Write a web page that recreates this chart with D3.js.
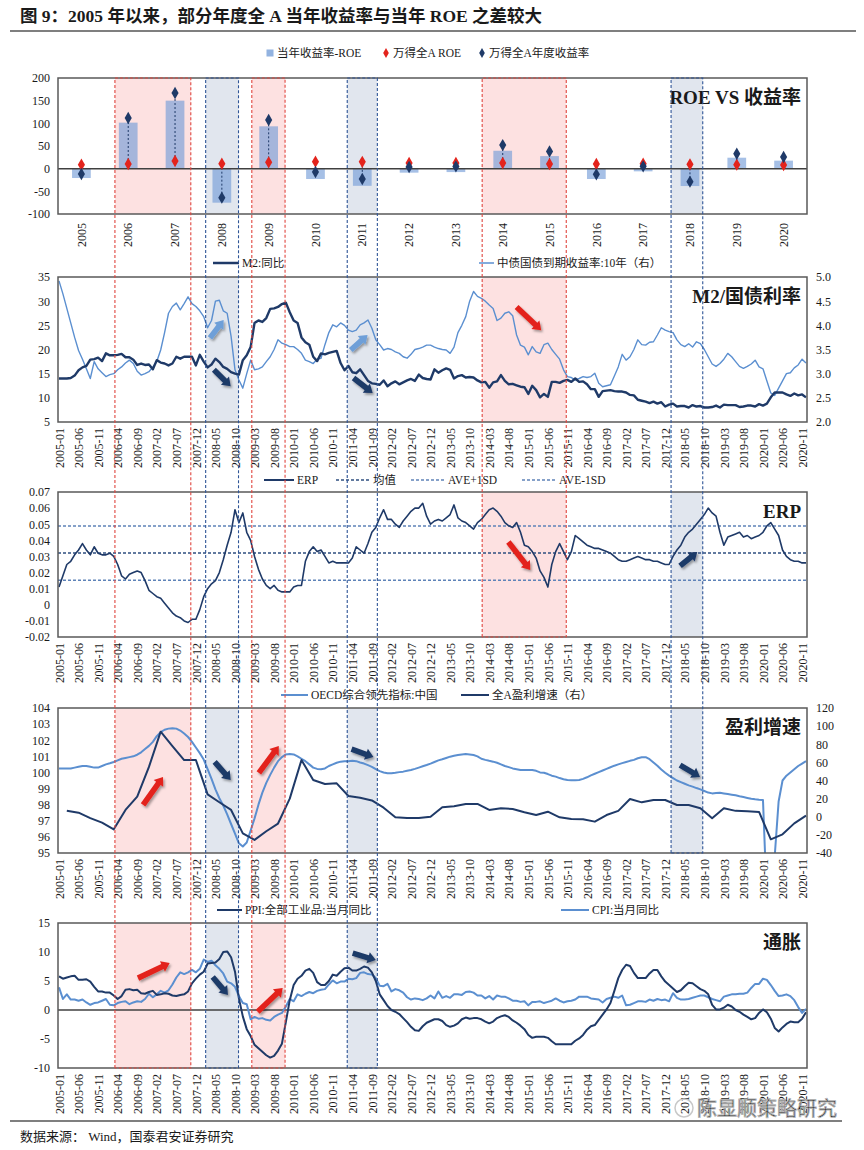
<!DOCTYPE html>
<html><head><meta charset="utf-8">
<script src="https://cdn.jsdelivr.net/npm/d3@7"></script>
<style>
body{margin:0;background:#fff}
text{font-family:"Liberation Serif","Noto Sans CJK SC",serif;fill:#1a1a1a}
</style></head>
<body>
<svg id="chart" width="864" height="1150"></svg>
<script>
// ---- data ----
const years = ["2005","2006","2007","2008","2009","2010","2011","2012","2013","2014","2015","2016","2017","2018","2019","2020"]
const roeGap = [-20.6,101.5,150,-75,93.4,-22.8,-37.8,-8.8,-7.5,39.5,27.7,-22.8,-5.9,-38.3,24.2,17.7]
const roe = [8.8,10.3,16.9,11,14,15.4,15,12.5,12.5,12.5,10.3,10.3,11,9.6,8.8,8]
const yearReturn = [-11.8,111.8,166.9,-64,107.4,-7.4,-22.8,3.7,5,52,38,-12.5,5.1,-28.7,33,25.7]

// monthly series, 2005-01 .. 2020-12
const m2 = [
14.0,14.0,14.0,14.1,14.6,15.7,16.3,16.6,17.9,18.0,18.3,17.6,
19.2,18.8,18.8,18.9,19.1,18.4,18.4,17.9,16.8,17.1,16.8,16.9,
15.9,17.8,17.3,17.1,16.7,17.1,18.5,18.1,18.5,18.5,18.5,16.7,
18.9,17.5,16.3,16.9,18.1,17.4,16.4,16.0,15.3,15.0,14.8,17.8,
18.8,20.5,25.5,26.0,25.7,26.5,28.4,28.5,28.8,29.4,29.7,27.7,
26.0,25.5,22.5,21.5,21.0,18.5,17.6,19.2,19.0,19.3,19.5,19.7,
17.2,15.7,16.6,15.3,15.1,15.9,14.7,13.5,13.0,12.9,12.7,13.6,
12.4,13.0,13.4,12.8,13.2,13.6,13.9,13.5,14.8,14.1,13.9,13.8,
15.9,15.2,15.7,16.1,15.8,14.0,14.5,14.7,14.2,14.3,14.2,13.6,
13.2,13.3,12.1,13.2,13.4,14.7,13.5,12.8,12.9,12.6,12.3,12.2,
10.8,12.5,11.6,10.1,10.8,10.2,13.3,13.3,13.1,13.5,13.7,13.3,
14.0,13.3,13.4,12.8,11.8,11.8,10.2,11.4,11.5,11.6,11.4,11.3,
11.3,11.1,10.6,10.5,9.6,9.4,9.2,8.9,9.2,8.8,9.1,8.2,
8.6,8.8,8.2,8.3,8.3,8.0,8.5,8.2,8.3,8.0,8.0,8.1,
8.4,8.0,8.6,8.5,8.5,8.5,8.1,8.2,8.4,8.4,8.2,8.7,
8.4,8.8,10.1,11.1,11.1,11.1,10.7,10.4,10.9,10.5,10.7,10.1]
const cgb10y = [
4.92,4.65,4.35,4.05,3.75,3.48,3.30,3.10,2.90,3.25,3.10,3.02,
2.94,2.98,3.00,3.08,3.14,3.22,3.28,3.21,3.05,2.97,3.00,3.04,
3.14,3.25,3.49,3.85,4.25,4.39,4.46,4.32,4.45,4.59,4.45,4.39,
4.30,4.18,3.95,4.10,4.50,4.52,4.30,4.25,3.77,3.08,2.87,2.70,
3.00,3.28,3.08,3.10,3.14,3.25,3.35,3.50,3.70,3.63,3.60,3.56,
3.56,3.50,3.42,3.28,3.25,3.21,3.30,3.32,3.60,3.85,4.01,3.97,
4.05,4.00,3.90,3.87,3.90,4.01,4.05,4.11,3.94,3.70,3.60,3.49,
3.52,3.50,3.45,3.42,3.35,3.32,3.40,3.50,3.52,3.55,3.59,3.59,
3.55,3.52,3.50,3.49,3.42,3.55,3.85,4.00,4.18,4.50,4.70,4.60,
4.56,4.50,4.42,4.35,4.10,4.15,4.25,4.28,4.20,3.80,3.59,3.55,
3.39,3.56,3.45,3.42,3.60,3.63,3.50,3.40,3.30,3.08,2.94,2.92,
2.87,2.90,2.94,2.92,2.94,3.01,2.80,2.73,2.75,2.77,2.95,3.14,
3.40,3.28,3.35,3.50,3.70,3.60,3.59,3.65,3.66,3.80,3.95,3.90,
3.87,3.85,3.70,3.60,3.56,3.62,3.55,3.66,3.62,3.50,3.35,3.20,
3.15,3.21,3.30,3.42,3.35,3.25,3.15,3.11,3.15,3.20,3.28,3.14,
3.10,2.85,2.60,2.55,2.70,2.85,3.00,3.02,3.12,3.18,3.30,3.22]
const erp = [
0.011,0.018,0.025,0.027,0.031,0.034,0.038,0.034,0.031,0.036,0.032,0.031,
0.031,0.032,0.030,0.025,0.018,0.016,0.019,0.020,0.021,0.020,0.015,0.009,
0.007,0.005,0.004,0.001,-0.002,-0.005,-0.007,-0.008,-0.010,-0.011,-0.009,-0.009,
-0.003,0.005,0.010,0.013,0.015,0.020,0.028,0.037,0.045,0.059,0.051,0.057,
0.045,0.040,0.030,0.022,0.016,0.012,0.010,0.012,0.009,0.008,0.008,0.008,
0.011,0.012,0.012,0.027,0.033,0.036,0.033,0.034,0.030,0.026,0.027,0.026,
0.026,0.026,0.026,0.029,0.036,0.034,0.032,0.038,0.045,0.048,0.054,0.059,
0.053,0.053,0.050,0.048,0.052,0.055,0.058,0.060,0.060,0.063,0.055,0.050,
0.052,0.053,0.052,0.054,0.056,0.062,0.054,0.052,0.051,0.049,0.047,0.051,
0.053,0.056,0.059,0.060,0.058,0.055,0.051,0.049,0.048,0.051,0.045,0.037,
0.036,0.033,0.029,0.021,0.017,0.011,0.025,0.033,0.038,0.033,0.028,0.033,
0.043,0.041,0.039,0.037,0.036,0.035,0.035,0.034,0.033,0.032,0.030,0.028,
0.027,0.027,0.028,0.029,0.030,0.029,0.028,0.028,0.027,0.027,0.026,0.025,
0.025,0.030,0.034,0.037,0.042,0.045,0.047,0.050,0.053,0.056,0.060,0.057,
0.055,0.045,0.037,0.042,0.043,0.044,0.045,0.042,0.043,0.041,0.042,0.043,
0.045,0.049,0.051,0.047,0.043,0.034,0.030,0.028,0.027,0.027,0.026,0.026]
const erpRefs = [0.0321, 0.0489, 0.0152]   // 均值, AVE+1SD, AVE-1SD
const oecd = [
100.25,100.25,100.25,100.25,100.3,100.35,100.4,100.4,100.35,100.3,100.3,100.4,
100.5,100.57,100.65,100.75,100.85,100.9,100.95,101.0,101.1,101.25,101.45,101.65,
101.9,102.25,102.5,102.65,102.72,102.75,102.72,102.6,102.42,102.2,101.9,101.55,
101.2,100.8,100.2,99.6,98.95,98.4,97.95,97.4,96.8,96.2,95.6,95.4,
95.65,96.4,97.15,98.0,98.75,99.35,99.85,100.3,100.7,100.95,101.12,101.15,
101.12,101.0,100.85,100.7,100.5,100.3,100.22,100.2,100.25,100.4,100.5,100.6,
100.67,100.7,100.7,100.72,100.7,100.62,100.55,100.45,100.35,100.2,100.08,100.0,
99.95,99.95,99.98,100.02,100.05,100.1,100.15,100.22,100.3,100.38,100.46,100.55,
100.65,100.75,100.82,100.9,100.98,101.03,101.08,101.12,101.14,101.12,101.08,101.0,
100.85,100.78,100.72,100.67,100.6,100.5,100.4,100.33,100.25,100.2,100.15,100.15,
100.15,100.15,100.1,100.0,99.98,99.9,99.8,99.74,99.65,99.58,99.53,99.52,
99.52,99.53,99.6,99.7,99.82,99.92,100.02,100.12,100.22,100.32,100.42,100.5,
100.58,100.65,100.72,100.78,100.88,100.94,100.95,100.82,100.62,100.42,100.18,99.98,
99.8,99.65,99.5,99.4,99.3,99.2,99.12,99.03,98.95,98.85,98.75,98.7,
98.72,98.74,98.7,98.66,98.62,98.58,98.52,98.47,98.42,98.37,98.33,98.3,
98.29,92.0,92.5,94.8,98.2,99.5,99.8,100.0,100.2,100.4,100.55,100.7]
// quarterly, 2005Q1 .. 2020Q4
const profitGrowth = [
6.7,4.5,-1.5,-6.5, -13.9,7.5,22.2,55, 93.9,78,62.6,62.6, 24.7,16,7.5,-18.3,
-25.6,-16,-7.5,20, 62.6,40.6,36.1,36.9, 22.9,21,18,10, -0.6,-1.5,-1.5,0.1,
10.4,11.5,14.1,14.1, 7.5,9.3,8.6,5.0, 1.9,5.6,-0.6,-2.5, -2.8,-5.4,1.9,6.5,
19.6,15.9,18.5,18.5, 13,13,9.3,-1.7, 9.3,6.5,6.2,5.3, -24.9,-19.4,-7.3,1.2]
const ppi = [
5.8,5.4,5.6,5.8,5.9,5.2,5.2,5.3,4.9,4.0,3.2,3.2,
3.0,3.0,2.5,1.9,2.4,3.5,3.6,3.4,3.5,2.9,2.8,3.1,
3.3,2.6,2.7,2.9,2.8,2.5,2.4,2.6,2.7,3.2,4.6,5.4,
6.1,6.6,8.0,8.1,8.2,8.8,10.0,10.1,9.1,6.6,2.0,-1.1,
-3.3,-4.5,-6.0,-6.6,-7.2,-7.8,-8.2,-7.9,-7.0,-5.8,-2.1,1.7,
4.3,5.4,5.9,6.8,7.1,6.4,4.8,4.3,4.3,5.0,6.1,5.9,
6.6,7.2,7.3,6.8,6.8,7.1,7.5,7.3,6.5,5.0,2.7,1.7,
0.7,0.0,-0.3,-0.7,-1.4,-2.1,-2.9,-3.5,-3.6,-2.8,-2.2,-1.9,
-1.6,-1.6,-1.9,-2.6,-2.9,-2.7,-2.3,-1.6,-1.3,-1.5,-1.4,-1.4,
-1.6,-2.0,-2.3,-2.0,-1.4,-1.1,-0.9,-1.2,-1.8,-2.2,-2.7,-3.3,
-4.3,-4.8,-4.6,-4.6,-4.6,-4.8,-5.4,-5.9,-5.9,-5.9,-5.9,-5.9,
-5.3,-4.9,-4.3,-3.4,-2.8,-2.6,-1.7,-0.8,0.1,1.2,3.3,5.5,
6.9,7.8,7.6,6.4,5.5,5.5,5.5,6.3,6.9,6.9,5.8,4.9,
4.3,3.7,3.1,3.4,4.1,4.7,4.6,4.1,3.6,3.3,2.7,0.9,
0.1,0.1,0.4,0.9,0.6,0.0,-0.3,-0.8,-1.2,-1.6,-1.4,-0.5,
0.1,-0.4,-1.5,-3.1,-3.7,-3.0,-2.4,-2.0,-2.1,-2.1,-1.5,-0.4]
const cpi = [
3.9,1.9,2.7,1.8,1.8,1.6,1.8,1.3,0.9,1.2,1.3,1.6,
1.9,0.9,0.8,1.2,1.4,1.5,1.0,1.3,1.5,1.4,1.9,2.8,
2.2,2.7,3.3,3.0,3.4,4.4,5.6,6.5,6.2,6.5,6.9,6.5,
7.1,8.7,8.3,8.5,7.7,7.1,6.3,4.9,4.6,4.0,2.4,1.2,
1.0,-1.6,-1.2,-1.5,-1.4,-1.7,-1.8,-1.2,-0.8,-0.5,0.6,1.9,
1.5,2.7,2.4,2.8,3.1,2.9,3.3,3.5,3.6,4.4,5.1,4.6,
4.9,4.9,5.4,5.3,5.5,6.4,6.5,6.2,6.1,5.5,4.2,4.1,
4.5,3.2,3.6,3.4,3.0,2.2,1.8,2.0,1.9,1.7,2.0,2.5,
2.0,3.2,2.1,2.4,2.1,2.7,2.7,2.6,3.1,3.2,3.0,2.5,
2.5,2.0,2.4,1.8,2.5,2.3,2.3,2.0,1.6,1.6,1.4,1.5,
0.8,1.4,1.4,1.5,1.2,1.4,1.6,2.0,1.6,1.3,1.5,1.6,
1.8,2.3,2.3,2.3,2.0,1.9,1.8,1.3,1.9,2.1,2.3,2.1,
2.5,0.8,0.9,1.2,1.5,1.5,1.4,1.8,1.6,1.9,1.7,1.8,
1.5,2.9,2.1,1.8,1.8,1.9,2.1,2.3,2.5,2.5,2.2,1.9,
1.7,1.5,2.3,2.5,2.7,2.7,2.8,2.8,3.0,3.8,4.5,4.5,
5.4,5.2,4.3,3.3,2.4,2.5,2.7,2.4,1.7,0.5,-0.5,0.2]

// tick values
const ticksP1 = [-100,-50,0,50,100,150,200]
const ticksP2L = [5,10,15,20,25,30,35]
const ticksP2R = [2.0,2.5,3.0,3.5,4.0,4.5,5.0]
const ticksP3 = [-0.02,-0.01,0,0.01,0.02,0.03,0.04,0.05,0.06,0.07]
const ticksP4L = [95,96,97,98,99,100,101,102,103,104]
const ticksP4R = [-40,-20,0,20,40,60,80,100,120]
const ticksP5 = [-10,-5,0,5,10,15]

// highlighted periods (month index from 2005-01), panels shaded, last panel reached
const periods = [
  {from:14.3, to:33.7, kind:"red",  shade:[1,4,5], last:5},
  {from:37.5, to:45.9, kind:"blue", shade:[1,2,4,5], last:5},
  {from:49.3, to:57.8, kind:"red",  shade:[1,4,5], last:5},
  {from:73.7, to:81.4, kind:"blue", shade:[1,2,4,5], last:5},
  {from:108.2, to:129.7, kind:"red", shade:[1,2,3], last:3},
  {from:156.5, to:164.6, kind:"blue", shade:[1,3,4], last:4}
]
// trend arrows, in month index and left-axis value of their panel
const arrows = [
  {p:2, m:[38.6,42.1], v:[22.4,26.1], c:"light"},
  {p:2, m:[39.6,43.9], v:[15.8,12.4], c:"dark"},
  {p:2, m:[74.6,78.9], v:[19.9,23.0], c:"light"},
  {p:2, m:[75.3,80.2], v:[14.1,11.0], c:"dark"},
  {p:2, m:[117,123.3], v:[28.8,24.0], c:"red"},
  {p:3, m:[114.9,120.5], v:[0.039,0.0216], c:"red"},
  {p:3, m:[158.8,163.2], v:[0.0241,0.0328], c:"dark"},
  {p:4, m:[21.5,26.6], v:[97.98,99.72], c:"red"},
  {p:4, m:[51.1,56.2], v:[99.97,101.64], c:"red"},
  {p:4, m:[39.8,43.9], v:[100.65,99.53], c:"dark"},
  {p:4, m:[74.8,80.4], v:[101.45,100.96], c:"dark"},
  {p:4, m:[158.8,163.9], v:[100.46,99.72], c:"dark"},
  {p:5, m:[20.2,28.3], v:[5.5,8.1], c:"red"},
  {p:5, m:[50.8,57.2], v:[-0.3,3.8], c:"red"},
  {p:5, m:[39.3,43.2], v:[5.7,2.6], c:"dark"},
  {p:5, m:[75.1,81.0], v:[9.8,8.6], c:"dark"}
]

// ---- layout ----
const NAVY = "#1f3a68", LIGHT = "#5b8fd0", RED = "#e3231c", BAR = "#6f9ad6"
const PL = 58, PR = 807
const P = {
  1:{top:78, bottom:214}, 2:{top:277, bottom:422}, 3:{top:492, bottom:637},
  4:{top:708, bottom:853}, 5:{top:923, bottom:1068}
}
const svg = d3.select("#chart")
svg.append("rect").attr("width",864).attr("height",1150).attr("fill","#fff")

const defs = svg.append("defs")
defs.append("filter").attr("id","shadow").attr("x","-50%").attr("y","-50%").attr("width","200%").attr("height","200%")
  .append("feDropShadow").attr("dx",1.5).attr("dy",2).attr("stdDeviation",1.2)
  .attr("flood-color","#000").attr("flood-opacity",0.35)
Object.keys(P).forEach(k => {
  defs.append("clipPath").attr("id","clip"+k).append("rect")
    .attr("x",PL).attr("y",P[k].top).attr("width",PR-PL).attr("height",P[k].bottom-P[k].top)
})

const xm = d3.scaleLinear().domain([0,191]).range([PL+1, PR-1])
const xb = d3.scaleBand().domain(years).range([PL, PR])
const monthTicks = d3.range(0, 191, 5)
const fmtMonth = i => d3.timeFormat("%Y-%m")(new Date(2005, i, 1))

const y1 = d3.scaleLinear().domain([-100,200]).range([P[1].bottom, P[1].top])
const y2L = d3.scaleLinear().domain([5,35]).range([P[2].bottom, P[2].top])
const y2R = d3.scaleLinear().domain([2,5]).range([P[2].bottom, P[2].top])
const y3 = d3.scaleLinear().domain([-0.02,0.07]).range([P[3].bottom, P[3].top])
const y4L = d3.scaleLinear().domain([95,104]).range([P[4].bottom, P[4].top])
const y4R = d3.scaleLinear().domain([-40,120]).range([P[4].bottom, P[4].top])
const y5 = d3.scaleLinear().domain([-10,15]).range([P[5].bottom, P[5].top])
const leftScale = {2:y2L, 3:y3, 4:y4L, 5:y5}

// ---- title & footer ----
svg.append("text").attr("x",20).attr("y",22).attr("font-size",17.5).attr("font-weight","bold")
  .text("图 9：2005 年以来，部分年度全 A 当年收益率与当年 ROE 之差较大")
svg.append("line").attr("x1",10).attr("x2",856).attr("y1",31).attr("y2",31).attr("stroke","#7f7f7f").attr("stroke-width",2)
svg.append("line").attr("x1",10).attr("x2",842).attr("y1",1121).attr("y2",1121).attr("stroke","#7f7f7f").attr("stroke-width",2)
svg.append("text").attr("x",20).attr("y",1141).attr("font-size",13).text("数据来源：  Wind，国泰君安证券研究")

// ---- shaded periods ----
const shadeG = svg.append("g")
periods.forEach(p => {
  p.shade.forEach(k => {
    shadeG.append("rect").attr("x",xm(p.from)).attr("width",xm(p.to)-xm(p.from))
      .attr("y",P[k].top).attr("height",P[k].bottom-P[k].top)
      .attr("fill", p.kind=="red" ? "#fde1e1" : "#e1e6ee")
  })
})

// ---- axes helpers ----
function leftAxis(scale, ticks, fmt){
  svg.append("g").attr("transform","translate("+(PL-5)+",0)")
    .call(d3.axisLeft(scale).tickValues(ticks).tickSize(0).tickFormat(fmt))
    .call(g => g.select(".domain").remove())
    .selectAll("text").attr("font-size",12).attr("font-family","Liberation Serif").attr("fill","#1a1a1a")
}
function rightAxis(scale, ticks, fmt){
  svg.append("g").attr("transform","translate("+(PR+6)+",0)")
    .call(d3.axisRight(scale).tickValues(ticks).tickSize(0).tickFormat(fmt))
    .call(g => g.select(".domain").remove())
    .selectAll("text").attr("font-size",12).attr("font-family","Liberation Serif").attr("fill","#1a1a1a")
}
function monthAxis(k){
  svg.append("g").attr("transform","translate(0,"+P[k].bottom+")")
    .call(d3.axisBottom(xm).tickValues(monthTicks).tickSize(0).tickFormat(fmtMonth))
    .call(g => g.select(".domain").remove())
    .selectAll("text").attr("font-size",12).attr("font-family","Liberation Serif").attr("fill","#1a1a1a")
      .attr("transform","rotate(-90)").attr("text-anchor","end")
      .attr("x",-6).attr("y",0).attr("dy","0.35em")
}
const plain = d => String(d)
const fix2 = d => Math.abs(d) < 1e-9 ? "0" : d.toFixed(2)

function legend(yPos, items){
  const g = svg.append("g")
  items.forEach(it => {
    if(it.kind=="square"){
      g.append("rect").attr("x",it.x-3.5).attr("y",yPos-3.5).attr("width",7).attr("height",7).attr("fill",it.color).attr("opacity",0.75)
    } else if(it.kind=="diamond"){
      g.append("path").attr("d",d3.symbol(d3.symbolDiamond,28)()).attr("transform","translate("+it.x+","+yPos+")").attr("fill",it.color)
    } else {
      g.append("line").attr("x1",it.x).attr("x2",it.x2).attr("y1",yPos).attr("y2",yPos)
        .attr("stroke",it.color).attr("stroke-width",it.w||2).attr("stroke-dasharray",it.dash||null)
    }
    g.append("text").attr("x",(it.x2||it.x+4)+3).attr("y",yPos).attr("dy","0.35em")
      .attr("font-size",11.5).text(it.label)
  })
}
function panelTitle(k, t){
  svg.append("text").attr("x",PR-6).attr("y",P[k].top+26).attr("text-anchor","end")
    .attr("font-size",19).attr("font-weight","bold").text(t)
}
function frame(k){
  svg.append("rect").attr("x",PL).attr("y",P[k].top).attr("width",PR-PL).attr("height",P[k].bottom-P[k].top)
    .attr("fill","none").attr("stroke","#595959").attr("stroke-width",1.5)
}
function drawLine(k, values, yScale, color, width, xOf){
  const line = d3.line().x((d,i) => xOf ? xOf(i) : xm(i)).y(d => yScale(d))
  svg.append("path").datum(values).attr("clip-path","url(#clip"+k+")")
    .attr("d",line).attr("fill","none").attr("stroke",color).attr("stroke-width",width)
    .attr("stroke-linejoin","round")
}

// ---- panel 1: ROE vs annual return ----
legend(53, [
  {kind:"square", x:270, color:BAR, label:"当年收益率-ROE"},
  {kind:"diamond", x:386, color:RED, label:"万得全A ROE"},
  {kind:"diamond", x:482, color:NAVY, label:"万得全A年度收益率"}
])
const bw = xb.bandwidth(), barW = bw*0.4
svg.append("g").selectAll("rect").data(years).enter().append("rect")
  .attr("x", d => xb(d) + (bw-barW)/2)
  .attr("y", (d,i) => y1(Math.max(0, roeGap[i])))
  .attr("width", barW)
  .attr("height", (d,i) => Math.abs(y1(roeGap[i]) - y1(0)))
  .attr("fill", BAR).attr("opacity",0.62)
svg.append("line").attr("x1",PL).attr("x2",PR).attr("y1",y1(0)).attr("y2",y1(0)).attr("stroke","#404040").attr("stroke-width",1.5)
svg.append("g").selectAll("line").data(years).enter().append("line")
  .attr("x1", d => xb(d)+bw/2).attr("x2", d => xb(d)+bw/2)
  .attr("y1", (d,i) => y1(roe[i])).attr("y2", (d,i) => y1(yearReturn[i]))
  .attr("stroke", NAVY).attr("stroke-width",1).attr("stroke-dasharray","2,2")
svg.append("g").selectAll("path").data(years).enter().append("path")
  .attr("d", d3.symbol(d3.symbolDiamond, 44)())
  .attr("transform", (d,i) => "translate("+(xb(d)+bw/2)+","+y1(roe[i])+")").attr("fill", RED)
svg.append("g").selectAll("path").data(years).enter().append("path")
  .attr("d", d3.symbol(d3.symbolDiamond, 44)())
  .attr("transform", (d,i) => "translate("+(xb(d)+bw/2)+","+y1(yearReturn[i])+")").attr("fill", NAVY)
leftAxis(y1, ticksP1, plain)
svg.append("g").attr("transform","translate(0,"+P[1].bottom+")")
  .call(d3.axisBottom(xb).tickSize(0))
  .call(g => g.select(".domain").remove())
  .selectAll("text").attr("font-size",12).attr("font-family","Liberation Serif").attr("fill","#1a1a1a")
    .attr("transform","rotate(-90)").attr("text-anchor","end").attr("x",-9).attr("y",0).attr("dy","0.35em")
frame(1); panelTitle(1, "ROE VS 收益率")

// ---- panel 2: M2 / 10y yield ----
legend(263, [
  {x:213, x2:239, color:NAVY, w:2.5, label:"M2:同比"},
  {x:479, x2:494, color:LIGHT, w:1.5, label:"中债国债到期收益率:10年（右）"}
])
drawLine(2, cgb10y, y2R, LIGHT, 1.4)
drawLine(2, m2, y2L, NAVY, 2.4)
leftAxis(y2L, ticksP2L, plain); rightAxis(y2R, ticksP2R, d3.format(".1f")); monthAxis(2)
frame(2); panelTitle(2, "M2/国债利率")

// ---- panel 3: ERP ----
legend(480, [
  {x:264, x2:294, color:NAVY, w:2, label:"ERP"},
  {x:336, x2:370, color:"#2f4f80", w:1.5, dash:"3,2", label:"均值"},
  {x:411, x2:445, color:"#5f83b8", w:1.5, dash:"3,2", label:"AVE+1SD"},
  {x:522, x2:556, color:"#5f83b8", w:1.5, dash:"3,2", label:"AVE-1SD"}
])
svg.append("g").selectAll("line").data(erpRefs).enter().append("line")
  .attr("x1",PL).attr("x2",PR).attr("y1",d => y3(d)).attr("y2",d => y3(d))
  .attr("stroke",(d,i) => i==0 ? "#2f4f80" : "#5f83b8").attr("stroke-width",1.5).attr("stroke-dasharray","3,2")
drawLine(3, erp, y3, NAVY, 1.6)
leftAxis(y3, ticksP3, fix2); monthAxis(3)
frame(3); panelTitle(3, "ERP")

// ---- panel 4: OECD leading index / profit growth ----
legend(695, [
  {x:281, x2:308, color:LIGHT, w:2, label:"OECD综合领先指标:中国"},
  {x:461, x2:489, color:NAVY, w:2, label:"全A盈利增速（右）"}
])
drawLine(4, oecd, y4L, LIGHT, 2)
drawLine(4, profitGrowth, y4R, NAVY, 2, i => xm(2 + 3*i))
leftAxis(y4L, ticksP4L, plain); rightAxis(y4R, ticksP4R, plain); monthAxis(4)
frame(4); panelTitle(4, "盈利增速")

// ---- panel 5: inflation ----
legend(910, [
  {x:217, x2:242, color:NAVY, w:2, label:"PPI:全部工业品:当月同比"},
  {x:561, x2:589, color:LIGHT, w:2, label:"CPI:当月同比"}
])
svg.append("line").attr("x1",PL).attr("x2",PR).attr("y1",y5(0)).attr("y2",y5(0)).attr("stroke","#404040").attr("stroke-width",1.3)
drawLine(5, cpi, y5, LIGHT, 2)
drawLine(5, ppi, y5, NAVY, 2)
leftAxis(y5, ticksP5, plain); monthAxis(5)
frame(5); panelTitle(5, "通胀")

// ---- dashed period borders across panels ----
const bandG = svg.append("g").attr("fill","none").attr("stroke-width",1.1).attr("stroke-dasharray","3,2")
periods.forEach(p => {
  const col = p.kind=="red" ? "#e0463f" : "#2f5597"
  const x0 = xm(p.from), x1 = xm(p.to), yTop = P[1].top, yEnd = P[p.last].bottom
  bandG.append("path").attr("stroke",col)
    .attr("d", d3.line()([[x0,yEnd],[x0,yTop],[x1,yTop],[x1,yEnd],[x0,yEnd]]))
})

// ---- trend arrows ----
const arrowCol = {red:RED, dark:NAVY, light:"#6e9fd8"}
arrows.forEach(a => {
  const ys = leftScale[a.p]
  const x1 = xm(a.m[0]), y1a = ys(a.v[0]), x2 = xm(a.m[1]), y2a = ys(a.v[1])
  const dx = x2-x1, dy = y2a-y1a, len = Math.hypot(dx,dy), ux = dx/len, uy = dy/len
  const nx = -uy, ny = ux, sw = 2.8, hw = 5.8, hl = 8
  const bx = x2-ux*hl, by = y2a-uy*hl
  const pts = [[x1+nx*sw,y1a+ny*sw],[bx+nx*sw,by+ny*sw],[bx+nx*hw,by+ny*hw],[x2,y2a],
               [bx-nx*hw,by-ny*hw],[bx-nx*sw,by-ny*sw],[x1-nx*sw,y1a-ny*sw]]
  svg.append("path").attr("d", d3.line()(pts)+"Z").attr("fill",arrowCol[a.c]).attr("filter","url(#shadow)")
})

// ---- watermark ----
svg.append("circle").attr("cx",684).attr("cy",1108).attr("r",9).attr("fill","none").attr("stroke","#c8c8c8").attr("stroke-width",1.5)
svg.append("text").attr("x",697).attr("y",1116).attr("font-size",20).attr("fill","#fff")
  .attr("stroke","#b8b8b8").attr("stroke-width",0.9).text("陈显顺策略研究")
</script>
</body></html>
